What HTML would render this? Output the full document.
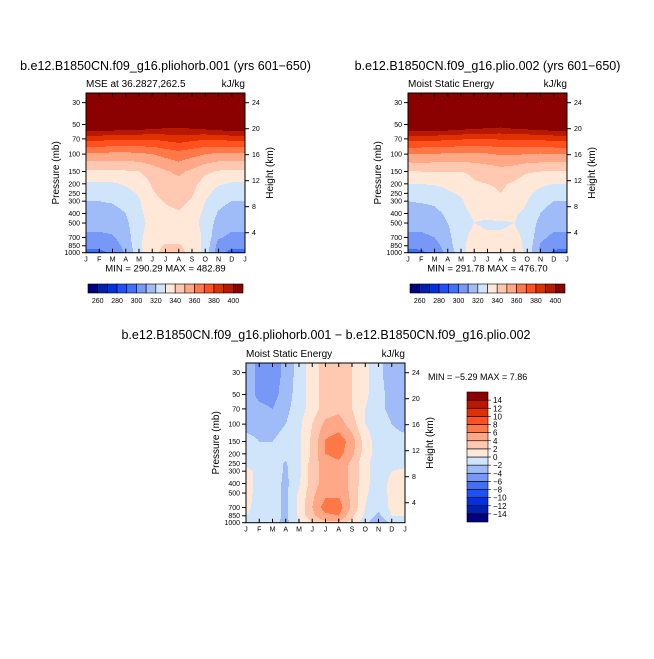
<!DOCTYPE html>
<html><head><meta charset="utf-8"><style>
html,body{margin:0;padding:0;background:#fff;}
svg text{font-family:"Liberation Sans",sans-serif;fill:#000;}
</style></head><body>
<svg id="c" xmlns="http://www.w3.org/2000/svg" width="654" height="654" viewBox="0 0 654 654">
<rect width="654" height="654" fill="#fff"/>
</svg>
<script>
const months = ["J","F","M","A","M","J","J","A","S","O","N","D","J"];
const pressureLevels = [1000,850,700,500,400,300,250,200,150,100,70,50,30];
const pressureTicks = [30,50,70,100,150,200,250,300,400,500,700,850,1000];
const heightTicks = [4,8,12,16,20,24];
const colors = ["#000080","#0020b0","#0030e0","#1e50f8","#4070f8","#7898f8","#a0bcf8","#d0e4fa","#ffe8d8","#ffc8b0","#ffa888","#ff7848","#ff5020","#e03000","#b81800","#8b0000"];
const mseTickLabels = [260,280,300,320,340,360,380,400];
const diffTickLabels = [14,12,10,8,6,4,2,0,-2,-4,-6,-8,-10,-12,-14];
// plio-horb MSE (rows = pressureLevels, cols = months)
const mse1 = [
[296,297,302,311,326,338,342,342,338,326,303,297,296],
[303,303,305,313,328,337,341,341,337,327,306,302,303],
[308,308,309,315,328,335,337,337,335,328,311,308,308],
[313,313,314,318,327,333,334,334,333,327,316,313,313],
[315,315,316,320,328,334,337,339,334,328,319,315,315],
[320,320,321,324,329,337,341,343,339,330,323,320,320],
[323,323,324,327,331,339,343,345,341,333,326,323,323],
[329,329,329,331,334,341,345,347,343,336,331,329,329],
[338,338,338,339,340,344,349,352,348,342,339,338,338],
[358,358,357,357,358,360,363,366,363,360,358,358,358],
[383,383,382,382,381,381,383,385,383,381,382,383,383],
[414,414,413,412,411,409,406,404,407,410,412,414,414],
[450,450,450,450,450,450,450,450,450,450,450,450,450]];
const mse2 = [
[296,298,303,313,326,336,339,339,337,327,307,298,296],
[303,303,306,315,328,334,336,336,335,327,309,303,303],
[308,308,310,317,328,332,331,331,332,328,312,308,308],
[313,313,315,320,327,330,329,329,330,327,317,313,313],
[315,315,317,322,328,331,332,334,331,328,320,315,315],
[320,321,322,326,329,334,336,338,336,330,324,320,320],
[323,324,325,329,331,336,338,340,338,332,327,323,323],
[330,330,331,332,334,339,340,341,339,335,332,330,330],
[339,340,340,340,340,342,344,346,344,341,340,339,339],
[360,360,359,359,358,358,359,361,361,360,359,360,360],
[383,383,383,382,381,380,380,381,381,381,382,383,383],
[413,414,414,413,411,409,407,405,408,410,412,413,413],
[455,455,455,455,455,455,455,455,455,455,455,455,455]];
const diff = [
[-0.5,-1,-1.5,-2.5,-0.5,2,3.5,3.5,1,-1,-4.5,-1,-0.5],
[0,-0.5,-1,-2.5,0.5,3.5,5.5,6,2.5,-0.5,-2.5,0,0],
[0.3,-0.5,-1,-2.5,0.5,4,7,7,3.5,0,-1.5,0.5,0.5],
[0.5,-0.5,-1,-2.5,0.3,3.5,5.5,5.5,3.5,0.3,-1,0.5,0.8],
[0.5,-0.5,-1,-2.5,-0.3,3,5,5,3.5,0.5,-1,0.5,0.8],
[0.5,-0.5,-1,-2.3,-0.5,3,5,5,3.5,0.5,-1,0,0.3],
[-0.5,-1,-1.2,-2.2,-0.5,3,5,5.5,3.5,0.5,-1,-0.5,-0.5],
[-1,-1.5,-1.5,-1.5,-0.5,2.5,6,6.8,4.5,1,-1,-1,-1],
[-1.5,-2,-2,-1.5,-0.5,2.5,6.2,7.2,5,1,-1,-1.5,-1.5],
[-2.5,-2.5,-2.5,-2,-0.5,2,4.5,5,3,0,-1,-2,-2.5],
[-2.5,-3.5,-4,-2.5,-1,1,3,3.5,2,0,-1.5,-2.5,-2.5],
[-3,-4.5,-4.8,-3,-1,1,3,3.5,2,0.5,-1.5,-2.5,-3],
[-3,-4.5,-5,-3.5,-1,1,3,3,2,0.5,-1.5,-3,-3]];

const NS="http://www.w3.org/2000/svg";
const svg=document.getElementById('c');
function mk(tag,attrs,parent){const e=document.createElementNS(NS,tag);for(const k in attrs)e.setAttribute(k,attrs[k]);(parent||svg).appendChild(e);return e;}
function txt(x,y,s,size,anchor,parent,name){const t=mk('text',{x:x,y:y,'font-size':size,'text-anchor':anchor||'start'},parent);t.textContent=s;


return t;}

const FW=159, FH=159.7, PXLN=42.8;
function yOfP(p){return FH - Math.log(1000/p)*PXLN;}
function pOfY(y){return 1000*Math.exp(-(FH-y)/PXLN);}
function xOfM(m){return m*FW/12;}
function yOfZ(z){return 139.7-(z-4)*6.5;}
function sample(grid,m,p){
  const lp=Math.log(p);let r=0;
  const lps=pressureLevels.map(Math.log);
  let fr;
  if(lp>=lps[0]){r=0;fr=0;}else if(lp<=lps[lps.length-1]){r=lps.length-2;fr=1;}
  else{for(r=0;r<lps.length-1;r++){if(lp<=lps[r]&&lp>=lps[r+1])break;}fr=(lps[r]-lp)/(lps[r]-lps[r+1]);}
  const c=Math.min(11,Math.floor(m)),fc=m-c;
  const a=grid[r][c]*(1-fc)+grid[r][c+1]*fc;
  const b=grid[r+1][c]*(1-fc)+grid[r+1][c+1]*fc;
  return a*(1-fr)+b*fr;
}
function cidx(v,lo,step){return Math.max(0,Math.min(15,Math.floor((v-lo)/step)+1));}

function panel(X,Y,grid,lo,step,name,title,sub,minmax){
  const g=mk('g',{transform:`translate(${X},${Y})`});
  
  
  const fill=mk('g',{},g);
  
  
  for(let py=0;py<FH;py+=1){
    const p=pOfY(py+0.5);let start=0,cur=-1;
    for(let px=0;px<=FW;px++){
      let ci=-1;if(px<FW){ci=cidx(sample(grid,(px+0.5)/FW*12,p),lo,step);}
      if(ci!==cur){if(cur>=0){const r=mk('rect',{x:start,y:py,width:px-start,height:1.2,fill:colors[cur]},fill);
        
        }
        cur=ci;start=px;}
    }
  }
  const fr=mk('rect',{x:0,y:0,width:FW,height:FH,fill:'none',stroke:'#000','stroke-width':1},g);
  
  
  months.forEach((mn,i)=>{const x=xOfM(i);
    mk('line',{x1:x,y1:0,x2:x,y2:4,stroke:'#000'},g);
    mk('line',{x1:x,y1:FH,x2:x,y2:FH-4,stroke:'#000'},g);
    txt(x,FH+9,mn,7,'middle',g,'month-tick-label');});
  pressureTicks.forEach(p=>{const y=yOfP(p);
    mk('line',{x1:-4,y1:y,x2:0,y2:y,stroke:'#000'},g);
    txt(-6,y+2.5,String(p),7,'end',g,'pressure-tick-label');});
  heightTicks.forEach(z=>{const y=yOfZ(z);
    mk('line',{x1:FW,y1:y,x2:FW+4,y2:y,stroke:'#000'},g);
    txt(FW+7,y+2.5,String(z),7,'start',g,'height-tick-label');});
  const yl=txt(0,0,'Pressure (mb)',10,'middle',g,'y-axis-title');yl.setAttribute('transform',`translate(-27,${FH/2}) rotate(-90)`);
  const yr=txt(0,0,'Height (km)',10,'middle',g,'right-axis-title');yr.setAttribute('transform',`translate(${FW+28},${FH/2}) rotate(-90)`);
  txt(0,-6,sub,10,'start',g,'subtitle');
  txt(FW,-6,'kJ/kg',10,'end',g,'units-label');
  if(title)txt(FW/2,-23,title,12.5,'middle',g,'plot-title');
  if(minmax)txt(FW/2,FH+19,minmax,9.5,'middle',g,'min-max-label');
  return g;
}
function hbar(X,Y,name){
  const g=mk('g',{transform:`translate(${X},${Y})`});
  
  
  const w=155/16;
  colors.forEach((c,i)=>{const r=mk('rect',{x:i*w,y:0,width:w,height:9,fill:c,stroke:'#000','stroke-width':0.6},g);
    
    });
  mseTickLabels.forEach((v,k)=>{const i=(v-260)/10;txt((i+1)*w,19,String(v),7,'middle',g,'labelbar-label');});
}
function vbar(X,Y,name){
  const g=mk('g',{transform:`translate(${X},${Y})`});
  
  
  const h=130/16;
  colors.forEach((c,i)=>{const r=mk('rect',{x:0,y:130-(i+1)*h,width:21,height:h,fill:c,stroke:'#000','stroke-width':0.6},g);
    
    });
  diffTickLabels.forEach(v=>{const i=(v+14)/2;const y=130-(i+1)*h;
    mk('line',{x1:21,y1:y,x2:24,y2:y,stroke:'#000','stroke-width':0.6},g);
    txt(26,y+3,v<0?'\u2212'+(-v):String(v),8,'start',g,'labelbar-label');});
}
panel(86,93,mse1,260,10,'panel-pliohorb','b.e12.B1850CN.f09_g16.pliohorb.001 (yrs 601\u2212650)','MSE at 36.2827,262.5','MIN = 290.29  MAX = 482.89');
panel(408,93,mse2,260,10,'panel-plio','b.e12.B1850CN.f09_g16.plio.002 (yrs 601\u2212650)','Moist Static Energy','MIN = 291.78  MAX = 476.70');
panel(246,363,diff,-14,2,'panel-difference',null,'Moist Static Energy',null);
txt(326,339,'b.e12.B1850CN.f09_g16.pliohorb.001 \u2212 b.e12.B1850CN.f09_g16.plio.002',12.5,'middle',svg,'difference-title');
txt(428,380,'MIN =  \u22125.29  MAX =    7.86',9,'start',svg,'difference-min-max');
hbar(88,284,'labelbar-pliohorb');
hbar(410,284,'labelbar-plio');
vbar(467,392,'labelbar-difference');
</script>
</body></html>
